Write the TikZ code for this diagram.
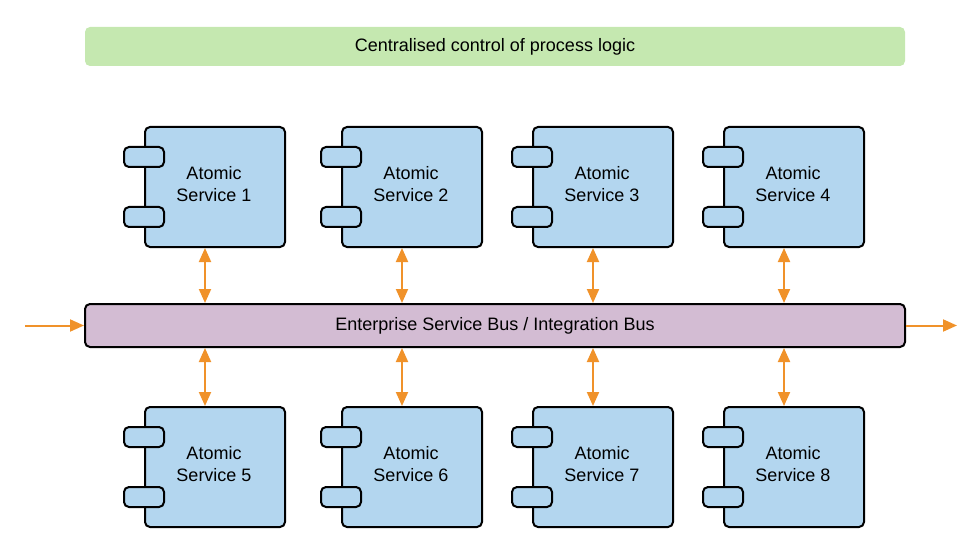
\documentclass[tikz,border=0pt]{standalone}
\usepackage{fontspec}
\setmainfont{Liberation Sans}
\usetikzlibrary{arrows.meta}
\definecolor{ctlgreen}{HTML}{C5E8B0}
\definecolor{svcblue}{HTML}{B3D6EF}
\definecolor{buspurple}{HTML}{D3BCD3}
\definecolor{arrorange}{HTML}{F0922A}
\tikzset{
  txt/.style={font=\fontsize{18}{22}\selectfont, text=black},
  body/.style={draw=black, line width=2pt, fill=svcblue, rounded corners=5pt,
    minimum width=140pt, minimum height=120pt, inner sep=0pt},
  lbl/.style={align=center, inner sep=0pt, txt},
  tab/.style={draw=black, line width=2pt, fill=svcblue, rounded corners=5pt,
    minimum width=40pt, minimum height=20pt, inner sep=0pt},
  bus/.style={draw=black, line width=2pt, fill=buspurple, rounded corners=5pt,
    minimum width=820pt, minimum height=43pt, inner sep=0pt, txt},
  ctl/.style={fill=ctlgreen, rounded corners=5pt,
    minimum width=820pt, minimum height=39pt, inner sep=0pt, txt},
  biarrow/.style={draw=arrorange, line width=2pt, {Triangle[width=12pt,length=14pt]}-{Triangle[width=12pt,length=14pt]}},
  onearrow/.style={draw=arrorange, line width=2pt, -{Triangle[width=12pt,length=14pt]}}
}
\newcommand{\svc}[4]{%
  \node[body] (#1) at (#2,#3) {};
  \node[tab] (#1t1) at ([yshift=-30pt]#1.west) {};
  \node[tab] (#1t2) at ([yshift=30pt]#1.west) {};
  \node[lbl] (#1l) at ([xshift=-1pt,yshift=3pt]#1.center) {Atomic\\Service #4};
}
\begin{document}
\begin{tikzpicture}[x=1pt,y=-1pt]
\useasboundingbox (0,0) rectangle (977,548);
\node[ctl] (ctl) at (495,46.5) {Centralised control of process logic};
\node[bus] (bus) at (495,325.5) {Enterprise Service Bus / Integration Bus};
\svc{s1}{215}{187}{1}
\svc{s2}{412}{187}{2}
\svc{s3}{603}{187}{3}
\svc{s4}{794}{187}{4}
\svc{s5}{215}{467}{5}
\svc{s6}{412}{467}{6}
\svc{s7}{603}{467}{7}
\svc{s8}{794}{467}{8}
\foreach \s in {s1,s2,s3,s4}{
  \draw[biarrow] ([xshift=-10pt]\s.south) -- ([xshift=-10pt]\s.south |- bus.north);
}
\foreach \s in {s5,s6,s7,s8}{
  \draw[biarrow] ([xshift=-10pt]\s.north) -- ([xshift=-10pt]\s.north |- bus.south);
}
\coordinate (in) at (25,325.5);
\coordinate (out) at (957,325.5);
\draw[onearrow] (in) -- (bus.west);
\draw[onearrow] (bus.east) -- (out);
\end{tikzpicture}
\end{document}
